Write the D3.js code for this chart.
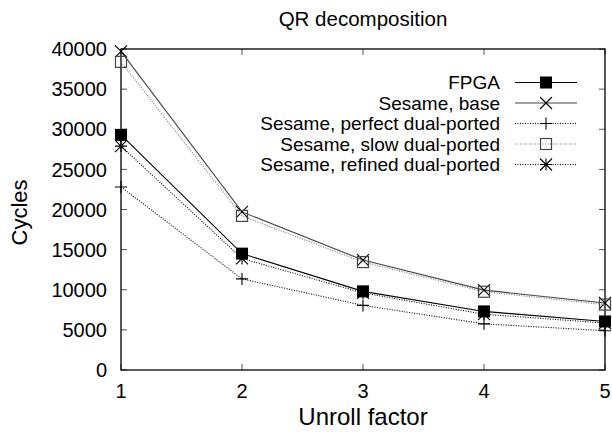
<!DOCTYPE html>
<html>
<head>
<meta charset="utf-8">
<script src="https://cdn.jsdelivr.net/npm/d3@7"></script>
<style>
  body { margin: 0; background: #fff; }
  text { font-family: "Liberation Sans", Arial, sans-serif; }
</style>
</head>
<body>
<div id="chart"></div>
<script>
var unroll = [1, 2, 3, 4, 5]
var yTicks = [0, 5000, 10000, 15000, 20000, 25000, 30000, 35000, 40000]
var fpga = [29300, 14500, 9800, 7300, 6050]
var base = [39700, 19700, 13700, 9950, 8350]
var perfect = [22800, 11350, 8050, 5750, 4900]
var slow = [38400, 19200, 13450, 9750, 8150]
var refined = [27900, 13900, 9600, 6950, 5850]

var seriesNames = ["FPGA", "Sesame, base", "Sesame, perfect dual-ported", "Sesame, slow dual-ported", "Sesame, refined dual-ported"]
var seriesValues = [fpga, base, perfect, slow, refined]
var strokes = ["#000", "#444", "#000", "#777", "#000"]
var dashes = [null, null, "1,1.5", "1,1.5", "1,1.5"]
var markerType = ["fsquare", "x", "plus", "osquare", "star"]

var margin = {top: 49, right: 7, bottom: 69, left: 121},
    W = 612, H = 439,
    width = W - margin.left - margin.right,
    height = H - margin.top - margin.bottom;

var svg = d3.select("#chart").append("svg")
    .attr("width", W).attr("height", H)

var g = svg.append("g")
    .attr("transform", "translate(" + margin.left + "," + margin.top + ")")

var x = d3.scaleLinear().domain([1, 5]).range([0, width])
var y = d3.scaleLinear().domain([0, 40000]).range([height, 0])

// ticks, inward on all four sides
var tk = 6
yTicks.forEach(function(t){
  g.append("line").attr("x1", 0).attr("x2", tk).attr("y1", y(t)).attr("y2", y(t)).attr("stroke", "#555")
  g.append("line").attr("x1", width).attr("x2", width - tk).attr("y1", y(t)).attr("y2", y(t)).attr("stroke", "#555")
  g.append("text").attr("x", -14).attr("y", y(t)).attr("dy", "0.36em")
    .attr("text-anchor", "end").style("font-size", "20px").text(t)
})
unroll.forEach(function(t){
  g.append("line").attr("x1", x(t)).attr("x2", x(t)).attr("y1", height).attr("y2", height - tk).attr("stroke", "#555")
  g.append("line").attr("x1", x(t)).attr("x2", x(t)).attr("y1", 0).attr("y2", tk).attr("stroke", "#555")
  g.append("text").attr("x", x(t)).attr("y", height + 28)
    .attr("text-anchor", "middle").style("font-size", "20px").text(t)
})

g.append("rect").attr("x", 0).attr("y", 0).attr("width", width).attr("height", height)
  .attr("fill", "none").attr("stroke", "#000").attr("stroke-width", 1.3)

svg.append("text").attr("x", margin.left + width / 2).attr("y", 26)
  .attr("text-anchor", "middle").style("font-size", "20.5px").text("QR decomposition")
svg.append("text").attr("x", margin.left + width / 2).attr("y", 425)
  .attr("text-anchor", "middle").style("font-size", "24px").text("Unroll factor")
svg.append("text").attr("transform", "translate(27," + (margin.top + height / 2 + 3) + ") rotate(-90)")
  .attr("text-anchor", "middle").style("font-size", "22px").text("Cycles")

function drawMarker(sel, type, color){
  var s = 6
  if (type == "fsquare") {
    sel.append("rect").attr("x", -s).attr("y", -s).attr("width", 2 * s).attr("height", 2 * s).attr("fill", "#000")
  } else if (type == "osquare") {
    sel.append("rect").attr("x", -s + 0.5).attr("y", -s + 0.5).attr("width", 2 * s - 1).attr("height", 2 * s - 1)
      .attr("fill", "none").attr("stroke", "#444").attr("stroke-width", 1.2)
  } else {
    var p = ""
    if (type == "x" || type == "star") p += "M" + (-s) + "," + (-s) + "L" + s + "," + s + "M" + (-s) + "," + s + "L" + s + "," + (-s)
    if (type == "plus" || type == "star") p += "M" + (-s) + ",0L" + s + ",0M0," + (-s) + "L0," + s
    sel.append("path").attr("d", p).attr("fill", "none").attr("stroke", "#000").attr("stroke-width", 1.1)
  }
}

var line = d3.line()
  .x(function(d, i){ return x(unroll[i]) })
  .y(function(d){ return y(d) })

seriesValues.forEach(function(vals, k){
  g.append("path").datum(vals)
    .attr("fill", "none")
    .attr("stroke", strokes[k])
    .attr("stroke-width", 1.1)
    .attr("stroke-dasharray", dashes[k])
    .attr("d", line)
  vals.forEach(function(v, i){
    var m = g.append("g").attr("transform", "translate(" + x(unroll[i]) + "," + y(v) + ")")
    drawMarker(m, markerType[k], strokes[k])
  })
})

// legend
var legX = 500, legY = 82.5, legStep = 20.5
seriesNames.forEach(function(name, k){
  var yy = legY + k * legStep
  svg.append("text").attr("x", legX).attr("y", yy).attr("dy", "0.36em")
    .attr("text-anchor", "end").style("font-size", "19px").text(name)
  svg.append("line").attr("x1", legX + 15).attr("x2", legX + 77).attr("y1", yy).attr("y2", yy)
    .attr("stroke", strokes[k]).attr("stroke-width", 1.1).attr("stroke-dasharray", dashes[k])
  var m = svg.append("g").attr("transform", "translate(" + (legX + 46) + "," + yy + ")")
  drawMarker(m, markerType[k], strokes[k])
})
</script>
</body>
</html>
